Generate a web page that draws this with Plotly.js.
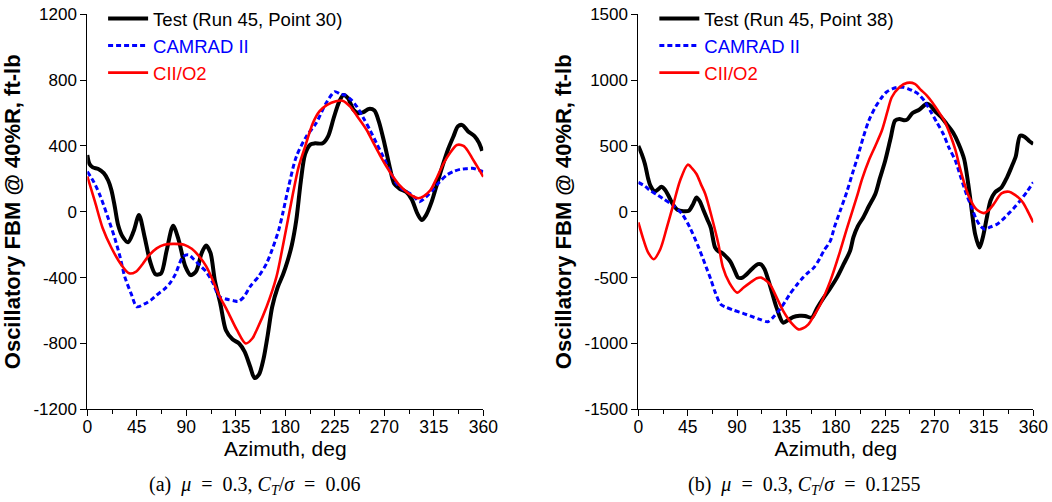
<!DOCTYPE html>
<html>
<head>
<meta charset="utf-8">
<script src="https://cdn.plot.ly/plotly-3.0.1.min.js"></script>
<style>html,body{margin:0;padding:0;background:#fff;}#chart{width:1052px;height:502px;}</style>
</head>
<body>
<div id="chart"></div>
<script>
// ---------- Panel (a): mu = 0.3, CT/sigma = 0.06 ----------
const aTestAz = [0,2,5,10,15,19,22,25,28,32,37,42,47,52,57,62,67,72,78,83,89,94,99,104,108,112,116,121,126,132,138,143,148,152,156,160,164,168,173,178,182,186,190,194,198,203,207,214,219,224,229,233,237,242,246,251,256,261,265,270,275,279,284,290,295,300,304,308,313,318,323,328,333,337,341,346,352,356,359];
const aTest   = [345,290,270,260,235,190,130,30,-80,-150,-185,-120,-20,-150,-300,-380,-375,-240,-85,-170,-330,-385,-360,-250,-205,-250,-420,-560,-720,-775,-800,-850,-940,-1010,-990,-900,-750,-580,-460,-380,-300,-200,-50,180,350,410,416,416,460,570,670,710,690,620,600,605,625,615,550,420,270,170,140,120,75,-10,-50,-20,60,170,280,380,460,520,527,490,460,420,370];

const aCamAz = [0,6,12,18,25,30,34,40,45,52,58,63,70,75,80,87,92,97,103,108,114,120,126,133,137,142,148,156,163,168,174,178,183,190,199,208,217,225,230,234,240,245,251,257,263,269,275,281,287,293,298,302,308,314,320,327,333,339,345,350,355,360];
const aCam   = [244,180,92,-20,-161,-280,-394,-500,-577,-560,-535,-506,-470,-435,-380,-273,-262,-290,-330,-364,-430,-516,-530,-540,-545,-520,-455,-390,-313,-230,-111,0,153,335,456,538,659,730,715,710,680,639,570,497,415,335,250,173,135,112,85,61,90,132,180,224,245,258,262,264,256,244];

const aCiiAz = [0,7,14,22,31,38,44,50,56,63,70,78,88,95,102,108,114,120,127,136,144,150,154,163,172,178,187,192,198,205,211,218,226,232,239,246,254,260,266,272,278,284,290,296,301,306,312,318,324,330,336,342,346,350,355,360];
const aCii   = [215,60,-100,-220,-323,-374,-365,-320,-265,-222,-200,-195,-200,-225,-273,-330,-414,-510,-597,-718,-800,-770,-718,-577,-394,-200,112,270,396,538,610,650,672,675,639,575,497,420,345,275,213,160,122,95,82,95,132,210,295,360,406,400,370,325,270,213];

// ---------- Panel (b): mu = 0.3, CT/sigma = 0.1255 ----------
const bTestAz = [0,3,6,9,11,15,18,21,24,27,31,36,41,46,50,53,56,59,63,66,70,73,76,81,84,88,91,95,98,104,109,112,115,120,126,132,137,141,147,152,158,163,169,175,181,187,193,196,200,205,210,216,220,225,230,234,238,242,245,250,256,263,267,270,276,281,287,292,297,302,307,311,314,318,321,325,331,336,340,344,348,352,356,360];
const bTest   = [500,440,363,250,198,155,170,190,170,130,63,13,5,8,60,109,80,20,-60,-120,-272,-300,-310,-350,-380,-450,-500,-500,-480,-430,-398,-400,-436,-560,-728,-842,-820,-800,-790,-791,-804,-730,-652,-580,-500,-400,-297,-195,-110,-43,40,135,250,388,560,692,705,695,700,750,775,820,800,769,720,667,600,515,400,135,-170,-272,-195,-30,84,147,185,260,337,420,578,570,540,515];

const bCamAz = [0,6,11,17,23,32,40,47,55,62,66,70,75,80,87,95,102,110,118,123,129,134,138,144,150,155,160,165,169,175,179,184,190,195,200,205,210,216,222,226,232,237,242,246,251,255,261,266,272,278,283,289,294,299,304,308,312,316,321,327,332,337,342,348,354,360];
const bCam   = [223,195,160,130,97,46,-18,-120,-272,-424,-512,-610,-702,-725,-748,-770,-791,-815,-835,-800,-741,-680,-626,-560,-500,-460,-424,-360,-297,-221,-110,8,150,287,420,565,690,794,870,908,935,946,945,934,915,896,840,769,680,591,490,388,260,135,30,-56,-110,-132,-115,-94,-60,-18,25,84,150,223];

const bCiiAz = [0,5,9,14,20,26,32,38,45,49,53,57,61,67,73,77,83,90,96,102,108,112,116,120,126,132,139,146,150,155,160,166,175,184,190,199,204,210,216,222,227,231,238,245,252,257,263,268,273,279,284,289,293,297,301,308,315,319,324,331,338,343,348,351,354,360];
const bCii   = [-81,-221,-310,-360,-284,-119,59,236,358,330,287,210,135,-43,-246,-420,-540,-614,-575,-538,-505,-500,-520,-550,-650,-753,-840,-893,-885,-855,-790,-702,-525,-297,-130,109,250,388,500,617,760,870,946,979,972,930,883,830,769,690,591,470,337,220,122,20,-10,10,59,140,152,130,96,65,20,-81];

// ---------- Labels and ticks ----------
const testNames = ['Test (Run 45, Point 30)', 'Test (Run 45, Point 38)'];
const camName = 'CAMRAD II';
const ciiName = 'CII/O2';
const xTicks = [0,45,90,135,180,225,270,315,360];
const xMinorTicks = [22.5,67.5,112.5,157.5,202.5,247.5,292.5,337.5];
const aYTicks = [-1200,-800,-400,0,400,800,1200];
const aYLabels = ['-1200','-800','-400','0','400','800','1200'];
const bYTicks = [-1500,-1000,-500,0,500,1000,1500];
const bYLabels = ['-1500','-1000','-500','0','500','1000','1500'];
const xTitle = 'Azimuth, deg';
const yTitle = 'Oscillatory FBM @ 40%R, ft-lb';

const FONT = 'Liberation Sans, Arial, sans-serif';
const SERIF = 'Liberation Serif, Times New Roman, serif';
const BLACK = '#000000', BLUE = '#0000ff', RED = '#ff0000';

function colored(t, c) { return '<span style="color:' + c + '">' + t + '</span>'; }

function tr(x, y, name, color, width, dash, xa, ya, legend, group) {
  return {x: x, y: y, name: name, type: 'scatter', mode: 'lines',
    line: {color: color, width: width, dash: dash, shape: 'spline', smoothing: 0.8},
    xaxis: xa, yaxis: ya, legend: legend, legendgroup: group, hoverinfo: 'skip'};
}

const data = [
  tr(aTestAz, aTest, testNames[0], BLACK, 4, 'solid', 'x', 'y', 'legend', 'a1'),
  tr(aCamAz, aCam, colored(camName, BLUE), BLUE, 3, '5px,3px', 'x', 'y', 'legend', 'a2'),
  tr(aCiiAz, aCii, colored(ciiName, RED), RED, 2.6, 'solid', 'x', 'y', 'legend', 'a3'),
  tr(bTestAz, bTest, testNames[1], BLACK, 4, 'solid', 'x2', 'y2', 'legend2', 'b1'),
  tr(bCamAz, bCam, colored(camName, BLUE), BLUE, 3, '5px,3px', 'x2', 'y2', 'legend2', 'b2'),
  tr(bCiiAz, bCii, colored(ciiName, RED), RED, 2.6, 'solid', 'x2', 'y2', 'legend2', 'b3')
];

function xaxis(domain, anchor) {
  return {domain: domain, anchor: anchor, range: [0, 360], tickvals: xTicks,
    ticks: 'outside', ticklen: 6, tickwidth: 1, tickcolor: BLACK, ticklabelstandoff: -4,
    showline: true, linecolor: BLACK, linewidth: 1, showgrid: false, zeroline: false,
    tickfont: {family: FONT, size: 17.5, color: BLACK},
    minor: {tickvals: xMinorTicks, ticks: 'outside', ticklen: 4, tickcolor: BLACK, tickwidth: 1, showgrid: false},
    title: {text: xTitle, font: {family: FONT, size: 21, color: BLACK}, standoff: 2},
    fixedrange: true};
}
function yaxis(domain, anchor, range, vals, labels) {
  return {domain: domain, anchor: anchor, range: range, tickvals: vals, ticktext: labels,
    ticks: 'outside', ticklen: 6, tickwidth: 1, tickcolor: BLACK,
    showline: true, linecolor: BLACK, linewidth: 1, showgrid: false, zeroline: false,
    tickfont: {family: FONT, size: 17, color: BLACK},
    title: {text: '<b>' + yTitle + '</b>', font: {family: FONT, size: 22, color: BLACK}, standoff: 6},
    fixedrange: true};
}
function legend(x) {
  return {x: x, y: 1.0, xanchor: 'left', yanchor: 'top', bgcolor: 'rgba(0,0,0,0)',
    borderwidth: 0, font: {family: FONT, size: 18.5, color: BLACK}, tracegroupgap: 0, itemwidth: 40,
    traceorder: 'grouped'};
}

const yDom = [0.1847, 0.9715];
const sp = '&#8194;';
const layout = {
  width: 1052, height: 502,
  margin: {l: 0, r: 0, t: 0, b: 0},
  paper_bgcolor: '#ffffff', plot_bgcolor: '#ffffff',
  showlegend: true,
  xaxis: xaxis([0.0830, 0.4594], 'y'),
  yaxis: yaxis(yDom, 'x', [-1200, 1200], aYTicks, aYLabels),
  xaxis2: xaxis([0.6068, 0.9822], 'y2'),
  yaxis2: yaxis(yDom, 'x2', [-1500, 1500], bYTicks, bYLabels),
  legend: legend(0.098),
  legend2: legend(0.622),
  annotations: [
    {xref: 'paper', yref: 'paper', x: 0.2415, y: 0.032, xanchor: 'center', yanchor: 'middle', showarrow: false,
     text: '(a)' + sp + '<i>μ</i>' + sp + '=' + sp + '0.3, <i>C</i><sub><i>T</i></sub>/<i>σ</i>' + sp + '=' + sp + '0.06',
     font: {family: SERIF, size: 20, color: BLACK}},
    {xref: 'paper', yref: 'paper', x: 0.7645, y: 0.032, xanchor: 'center', yanchor: 'middle', showarrow: false,
     text: '(b)' + sp + '<i>μ</i>' + sp + '=' + sp + '0.3, <i>C</i><sub><i>T</i></sub>/<i>σ</i>' + sp + '=' + sp + '0.1255',
     font: {family: SERIF, size: 20, color: BLACK}}
  ]
};

Plotly.newPlot('chart', data, layout, {staticPlot: true, displayModeBar: false});
</script>
</body>
</html>
